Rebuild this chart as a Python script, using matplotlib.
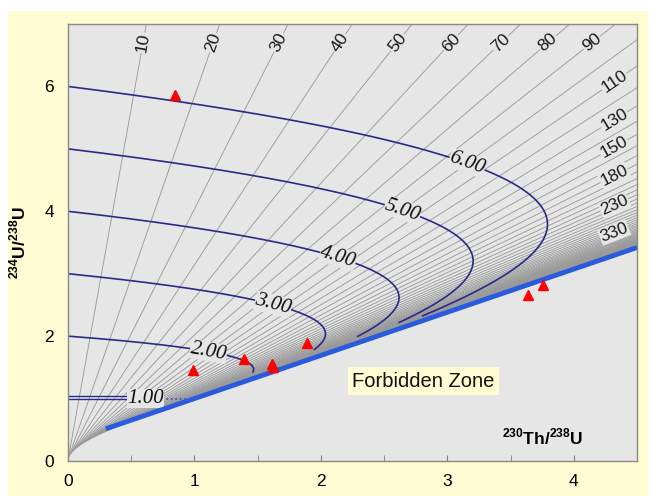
import numpy as np
import matplotlib.pyplot as plt
from matplotlib.patches import Rectangle

plt.rcParams['font.family'] = ['Liberation Sans', 'DejaVu Sans']
plt.rcParams['mathtext.fontset'] = 'custom'
plt.rcParams['mathtext.rm'] = 'Liberation Sans'
plt.rcParams['mathtext.bf'] = 'Liberation Sans:bold'

# decay constants (1/yr)
lam230 = np.log(2) / 75.69e3
lam234 = np.log(2) / 245.25e3
kk = lam230 / (lam230 - lam234)

# initial 234U/238U of the evolution curves and the age (ka) where each one stops
init_ratios = [2.0, 3.0, 4.0, 5.0, 6.0]
curve_end_ka = [300, 330, 390, 420, 470]
curve_labels = ['2.00', '3.00', '4.00', '5.00', '6.00']

# isochrons every 10 ka, labelled ones below
iso_ages = list(range(10, 1501, 10))
top_labels = [10, 20, 30, 40, 50, 60, 70, 80, 90]
side_labels = [110, 130, 150, 180, 230, 330]

# measured samples
samp_th = [0.85, 0.99, 1.39, 1.61, 1.62, 1.89, 3.64, 3.76]
samp_u = [5.86, 1.46, 1.64, 1.55, 1.50, 1.89, 2.66, 2.82]


def th_u(t, d0):
    e4 = np.exp(-lam234 * t)
    e0 = np.exp(-lam230 * t)
    return 1 - e0 + (d0 - 1) * kk * (e4 - e0)


def u_u(t, d0):
    return 1 + (d0 - 1) * np.exp(-lam234 * t)


bg = '#e6e6e6'
fig = plt.figure(figsize=(6.51, 4.96), dpi=100)
fig.patches.append(Rectangle((8 / 651, 0), 640 / 651, 485 / 496, transform=fig.transFigure,
                             facecolor='#fffbd2', edgecolor='none', zorder=-10))
ax = fig.add_axes([68 / 651, 35 / 496, 569 / 651, 437 / 496])
ax.set_facecolor(bg)
ax.set_xlim(0, 4.5)
ax.set_ylim(0, 7)


def screen_angle(x, y, dx, dy):
    p1 = ax.transData.transform((x, y))
    p2 = ax.transData.transform((x + dx, y + dy))
    return np.degrees(np.arctan2(p2[1] - p1[1], p2[0] - p1[0]))


# isochrons: straight lines in d0
d0s = np.array([0.0, 40.0])
for a in iso_ages:
    t = a * 1e3
    ax.plot(th_u(t, d0s), u_u(t, d0s), color='#9a9a9a', lw=0.65, zorder=1)

# isochron labels
for a in top_labels:
    t = a * 1e3
    y0 = 6.7
    d0 = 1 + (y0 - 1) / np.exp(-lam234 * t)
    x0 = th_u(t, d0)
    ang = screen_angle(th_u(t, d0), u_u(t, d0), th_u(t, d0 + 1) - x0, u_u(t, d0 + 1) - y0)
    ax.text(x0, y0, str(a), rotation=ang, ha='center', va='center', fontsize=12.5,
            color='#1a1a1a', rotation_mode='anchor', zorder=3,
            bbox=dict(facecolor=bg, edgecolor='none', pad=0.5))
for a in side_labels:
    t = a * 1e3
    x0 = 4.32
    slope = kk * (1 - np.exp(-(lam230 - lam234) * t))
    y0 = 1 + (x0 - (1 - np.exp(-lam230 * t))) / slope
    ang = screen_angle(x0, y0, slope, 1.0)
    ax.text(x0, y0, str(a), rotation=ang, ha='center', va='center', fontsize=12.5,
            color='#1a1a1a', rotation_mode='anchor', zorder=3,
            bbox=dict(facecolor=bg, edgecolor='none', pad=0.5))

# evolution curves
navy = '#2a2a8a'
lab_t = 100e3
for d0, te, lab in zip(init_ratios, curve_end_ka, curve_labels):
    tt = np.linspace(0, te * 1e3, 600)
    ax.plot(th_u(tt, d0), u_u(tt, d0), color=navy, lw=1.2, zorder=2)
    x0, y0 = th_u(lab_t, d0), u_u(lab_t, d0)
    ang = screen_angle(x0, y0, th_u(lab_t + 1e3, d0) - x0, u_u(lab_t + 1e3, d0) - y0)
    ax.text(x0, y0, lab, rotation=ang, ha='center', va='center', fontsize=15,
            family='Liberation Serif', style='italic', color='#111111',
            rotation_mode='anchor', zorder=3,
            bbox=dict(facecolor=bg, edgecolor='none', pad=0.2))

# d0 = 1 curve (double line)
ax.plot([0, 0.47], [1.0, 1.0], color=navy, lw=1.0, zorder=2)
ax.plot([0, 0.47], [1.045, 1.045], color=navy, lw=1.0, zorder=2)
ax.plot([0.74, 0.93], [1.0, 1.0], color='#4050b0', lw=1.2, ls=':', zorder=2)
ax.text(0.61, 1.0, '1.00', ha='center', va='center', fontsize=15,
        family='Liberation Serif', style='italic', color='#111111', zorder=3,
        bbox=dict(facecolor=bg, edgecolor='none', pad=0.2))

# equiline / forbidden zone boundary
xe = np.array([0.3, 4.5])
ax.plot(xe, 1 + (xe - 1) / kk, color='#2a5bdc', lw=3.5, solid_capstyle='butt', zorder=4)

ax.plot(samp_th, samp_u, ls='none', marker='^', ms=7, color='#ff0000', mec='#ff0000', zorder=5)

ax.text(2.81, 1.28, 'Forbidden Zone', ha='center', va='center', fontsize=14.5, color='#111111',
        zorder=6, bbox=dict(facecolor='#fffbd2', edgecolor='none', pad=3))
ax.text(4.08, 0.39, r'$^{\mathbf{230}}$Th/$^{\mathbf{238}}$U', ha='right', va='center',
        fontsize=12.5, fontweight='bold', zorder=6)
ax.set_ylabel(r'$^{\mathbf{234}}$U/$^{\mathbf{238}}$U', fontsize=12.5, fontweight='bold')
ax.yaxis.set_label_coords(-0.07, 0.5)

ax.set_xticks([0, 1, 2, 3, 4])
ax.set_xticks([0.5, 1.5, 2.5, 3.5, 4.5], minor=True)
ax.set_yticks([0, 2, 4, 6])
ax.tick_params(axis='both', which='both', direction='in', labelsize=12.5, color='#808080')
ax.tick_params(axis='x', which='major', length=4, pad=9)
ax.tick_params(axis='x', which='minor', length=4)
ax.tick_params(axis='y', which='both', length=0, pad=10)
for s in ax.spines.values():
    s.set_color('#8a8a80')
    s.set_linewidth(1.0)

plt.savefig('out.png', dpi=100)
